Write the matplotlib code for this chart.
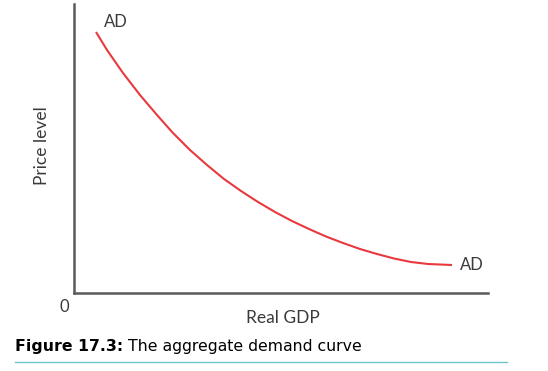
import matplotlib.pyplot as plt
from matplotlib.lines import Line2D

# AD curve (arbitrary units: real GDP, price level)
gdp = [22, 33, 49, 66, 83, 99, 116, 133, 150, 167, 184,
       201, 218, 235, 252, 269, 286, 303, 320, 337, 354, 378]
price = [261, 243, 220, 198, 178, 160, 143, 128, 114, 102, 91,
         81, 72, 64, 56.5, 50, 44, 39, 34.5, 31, 29, 28]

W, H = 548, 371
fig = plt.figure(figsize=(W / 100, H / 100), dpi=100)

ax = fig.add_axes([74 / W, (H - 293) / H, 414 / W, 289 / H])
ax.plot(gdp, price, color='#e8393f', linewidth=1.5, solid_capstyle='butt')
ax.set_xlim(0, 414)
ax.set_ylim(0, 289)
for s in ['top', 'right']:
    ax.spines[s].set_visible(False)
for s in ['left', 'bottom']:
    ax.spines[s].set_color('#5a5a5a')
    ax.spines[s].set_linewidth(1.8)
ax.set_xticks([])
ax.set_yticks([])

label_font = dict(family=['Lato', 'DejaVu Sans'], color='#3a3a3a')
ax.text(gdp[0] + 8, price[0] + 10, 'AD', fontsize=12, ha='left', va='center', **label_font)
ax.text(gdp[-1] + 8, price[-1], 'AD', fontsize=12, ha='left', va='center', **label_font)

fig.text(42 / W, 1 - 146 / H, 'Price level', rotation=90, fontsize=12.5, ha='center', va='center', **label_font)
fig.text(283 / W, 1 - 318 / H, 'Real GDP', fontsize=12.5, ha='center', va='center', **label_font)
fig.text(64 / W, 1 - 307 / H, '0', fontsize=12, ha='center', va='center', **label_font)

# caption: bold part then regular part
cap_y = 1 - 347 / H
t1 = fig.text(15 / W, cap_y, 'Figure 17.3:', fontsize=11.3, fontweight='bold',
              ha='left', va='center', family='DejaVu Sans')
fig.canvas.draw()
bb = t1.get_window_extent()
fig.text((bb.x1 + 5) / W, cap_y, 'The aggregate demand curve', fontsize=11.3,
         ha='left', va='center', family='DejaVu Sans')
fig.add_artist(Line2D([15 / W, 507 / W], [1 - 362 / H, 1 - 362 / H], color='#6cc3c8', linewidth=1))

plt.savefig('out.png', dpi=100)
